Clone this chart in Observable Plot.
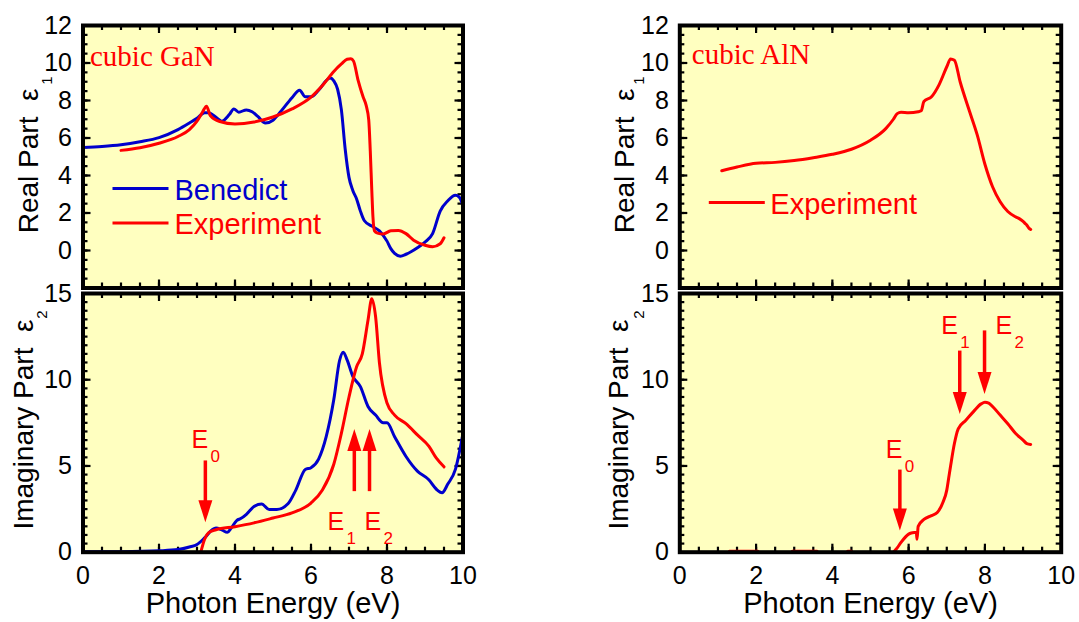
<!DOCTYPE html>
<html><head><meta charset="utf-8">
<script src="https://cdn.jsdelivr.net/npm/d3@7"></script>
<script src="https://cdn.jsdelivr.net/npm/@observablehq/plot@0.6"></script>
<style>
body{margin:0;background:#fff;}
#chart{position:relative;width:1079px;height:622px;overflow:hidden;background:#fff;}
#chart svg{position:absolute;overflow:visible;}
</style></head><body><div id="chart"></div>
<script>
// ---------------- data (photon energy eV, dielectric function) ----------------
const gaNRealBenedict = [[0,5.5],[0.5,5.55],[1,5.64],[1.5,5.8],[2,6.02],[2.5,6.45],[2.8,6.8],[3.0,7.05],[3.2,7.35],[3.3,7.35],[3.5,7.1],[3.65,6.9],[3.85,7.25],[3.97,7.55],[4.1,7.38],[4.3,7.5],[4.45,7.4],[4.6,7.15],[4.8,6.8],[5.0,6.95],[5.2,7.4],[5.5,8.15],[5.7,8.55],[5.85,8.2],[6.0,8.2],[6.2,8.55],[6.5,9.2],[6.6,9.05],[6.7,8.6],[6.8,7.5],[6.9,5.4],[7.0,3.9],[7.1,3.2],[7.2,2.75],[7.3,2.1],[7.4,1.6],[7.6,1.3],[7.8,1.05],[8.0,0.5],[8.1,0.1],[8.2,-0.15],[8.35,-0.3],[8.5,-0.2],[8.8,0.15],[9.0,0.45],[9.2,0.9],[9.4,2.1],[9.6,2.65],[9.8,2.95],[9.9,2.85],[10,2.4]];
const gaNRealExperiment = [[1.0,5.34],[1.5,5.48],[2.0,5.72],[2.5,6.08],[2.8,6.45],[3.0,6.9],[3.15,7.4],[3.25,7.7],[3.35,7.2],[3.6,6.88],[4.0,6.75],[4.5,6.85],[5.0,7.12],[5.5,7.55],[6.0,8.18],[6.3,8.8],[6.6,9.55],[6.8,9.95],[6.95,10.2],[7.05,10.23],[7.12,10.1],[7.24,9.07],[7.37,8.2],[7.45,7.75],[7.52,6.95],[7.56,5.3],[7.6,3.2],[7.63,1.8],[7.67,1.05],[7.75,0.93],[7.9,0.88],[8.1,1.05],[8.3,1.07],[8.5,0.9],[8.7,0.55],[9.0,0.28],[9.2,0.2],[9.4,0.36],[9.5,0.68]];
const gaNImagBenedict = [[0,0.02],[1,0.03],[2,0.08],[2.5,0.15],[2.8,0.3],[3.0,0.45],[3.2,0.83],[3.4,1.3],[3.5,1.4],[3.65,1.3],[3.8,1.15],[3.9,1.4],[4.05,1.85],[4.15,1.95],[4.3,2.2],[4.5,2.65],[4.7,2.8],[4.9,2.47],[5.1,2.47],[5.4,2.82],[5.6,3.6],[5.85,4.8],[6.0,4.9],[6.2,5.4],[6.4,6.7],[6.6,8.85],[6.75,11.1],[6.85,11.6],[6.95,11.15],[7.1,10.2],[7.3,9.6],[7.5,8.45],[7.7,7.95],[7.9,7.5],[8.0,7.5],[8.2,6.7],[8.5,5.55],[8.8,4.7],[9.1,4.2],[9.3,3.65],[9.45,3.45],[9.6,3.95],[9.8,4.8],[10,6.9]];
const gaNImagExperiment = [[3.1,0],[3.2,0.75],[3.3,1.12],[3.5,1.3],[4.0,1.48],[4.5,1.7],[5.0,1.98],[5.5,2.28],[6.0,2.85],[6.3,3.6],[6.6,5.1],[6.8,6.9],[7.0,9.0],[7.2,10.75],[7.35,11.5],[7.5,13.45],[7.6,14.7],[7.7,13.65],[7.8,11.0],[8.0,8.65],[8.2,7.95],[8.5,7.45],[8.8,6.8],[9.1,6.15],[9.3,5.45],[9.5,4.95]];
const alNRealExperiment = [[1.1,4.25],[1.5,4.45],[2.0,4.65],[2.5,4.7],[3.0,4.8],[3.5,4.95],[4.0,5.13],[4.5,5.4],[5.0,5.88],[5.4,6.5],[5.6,7.0],[5.7,7.3],[5.8,7.37],[6.0,7.35],[6.25,7.4],[6.33,7.45],[6.4,7.95],[6.6,8.2],[6.8,8.85],[7.0,9.8],[7.1,10.22],[7.2,10.15],[7.35,9.0],[7.6,7.4],[7.8,6.15],[8.0,4.6],[8.2,3.4],[8.4,2.6],[8.6,2.08],[8.8,1.8],[8.9,1.7],[9.0,1.55],[9.05,1.45],[9.1,1.35],[9.15,1.2],[9.2,1.12]];
const alNImagExperiment = [[5.6,0.0],[5.7,0.25],[5.8,0.57],[6.0,1.05],[6.1,1.13],[6.2,1.15],[6.22,0.75],[6.25,1.5],[6.4,1.9],[6.6,2.12],[6.75,2.3],[6.9,2.9],[7.0,3.6],[7.05,4.3],[7.1,5.0],[7.2,6.3],[7.3,7.15],[7.5,7.65],[7.7,8.15],[7.9,8.6],[8.0,8.7],[8.1,8.65],[8.2,8.45],[8.4,7.95],[8.6,7.45],[8.8,6.9],[9.0,6.5],[9.1,6.3],[9.2,6.25]];
// low-energy noise fragments of the AlN epsilon-2 data: [x, y, fragment]
const alNImagFragments = [[1.3,0.06,1],[2.05,0.06,1],[2.95,0.06,2],[3.6,0.06,2],[4.4,0.06,3],[4.5,0.06,3]];

// critical-point annotations (data coordinates)
const gaNArrows = [{x:3.22, tail:5.32, tip:1.74},{x:7.14, tail:3.54, tip:7.15},{x:7.54, tail:3.54, tip:7.15}];
const gaNLabels = [{x:2.91, y:6.07, sub:"0"},{x:6.49, y:1.26, sub:"1"},{x:7.46, y:1.26, sub:"2"}];
const alNArrows = [{x:5.77, tail:4.79, tip:1.26},{x:7.34, tail:11.69, tip:8.02},{x:7.99, tail:12.86, tip:9.18}];
const alNLabels = [{x:5.45, y:5.49, sub:"0"},{x:6.91, y:12.68, sub:"1"},{x:8.33, y:12.68, sub:"2"}];

// axes
const xDomain = [0, 10];
const xTickLabels = [0, 2, 4, 6, 8, 10];
const realDomain = [-2, 12];
const realTickLabels = [0, 2, 4, 6, 8, 10, 12];
const realMajorTicks = [-2, 0, 2, 4, 6, 8, 10, 12];
const imagDomain = [0, 15];
const imagTickLabels = [0, 5, 10, 15];
const imagMajorTicks = [0, 5, 10, 15];
const minorStep = 0.5;

// ---------------- styles ----------------
const RED = "#ff0000", BLUE = "#0000cc", BG = "#ffffc0";
const SANS = "'Liberation Sans', Arial, Helvetica, sans-serif";
const SERIF = "'Liberation Serif', 'Times New Roman', serif";

const headDown = {draw(ctx) { ctx.moveTo(0, 0); ctx.lineTo(-7, -22); ctx.lineTo(7, -22); ctx.closePath(); }};
const headUp = {draw(ctx) { ctx.moveTo(0, 0); ctx.lineTo(-7, 22); ctx.lineTo(7, 22); ctx.closePath(); }};
const legendLine = {draw(ctx) { ctx.moveTo(-28, 0); ctx.lineTo(28, 0); }};

function tickMarks(yDomain, yMajor, fw, fh) {
  const xMinor = d3.range(xDomain[0], xDomain[1] + 1e-9, minorStep);
  const yMinor = d3.range(yDomain[0], yDomain[1] + 1e-9, minorStep);
  const xMajor = xTickLabels;
  const mn = 5, mj = 8;
  const o = {stroke: "black", strokeWidth: 2.2};
  return [
    Plot.tickX(xMinor, {x: d => d, insetTop: fh - mn, ...o}),
    Plot.tickX(xMinor, {x: d => d, insetBottom: fh - mn, ...o}),
    Plot.tickX(xMajor, {x: d => d, insetTop: fh - mj, ...o}),
    Plot.tickX(xMajor, {x: d => d, insetBottom: fh - mj, ...o}),
    Plot.tickY(yMinor, {y: d => d, insetRight: fw - mn, ...o}),
    Plot.tickY(yMinor, {y: d => d, insetLeft: fw - mn, ...o}),
    Plot.tickY(yMajor, {y: d => d, insetRight: fw - mj, ...o}),
    Plot.tickY(yMajor, {y: d => d, insetLeft: fw - mj, ...o})
  ];
}

function line(data, stroke) {
  return Plot.line(data, {x: d => d[0], y: d => d[1], stroke, strokeWidth: 3, curve: "monotone-x"});
}

function annotations(arrows, labels) {
  const shaft = 0.7;
  return [
    Plot.link(arrows, {x1: "x", x2: "x", y1: "tail", y2: d => d.tip + (d.tail > d.tip ? shaft : -shaft), stroke: RED, strokeWidth: 3.5}),
    Plot.dot(arrows.filter(d => d.tail > d.tip), {x: "x", y: "tip", symbol: headDown, fill: RED, stroke: null}),
    Plot.dot(arrows.filter(d => d.tail < d.tip), {x: "x", y: "tip", symbol: headUp, fill: RED, stroke: null}),
    Plot.text(labels, {x: "x", y: "y", text: () => "E", textAnchor: "start", lineAnchor: "bottom", dx: -2, fill: RED, fontSize: 25, fontFamily: SANS}),
    Plot.text(labels, {x: "x", y: "y", text: "sub", textAnchor: "start", lineAnchor: "bottom", dx: 17, dy: 14, fill: RED, fontSize: 17, fontFamily: SANS})
  ];
}

function panel(p) {
  const fw = p.width - p.marginLeft - p.marginRight;
  const fh = p.height - p.marginTop - p.marginBottom;
  const marks = [
    Plot.frame({fill: BG, stroke: null}),
    ...tickMarks(p.yDomain, p.yMajor, fw, fh),
    ...p.marks,
    Plot.frame({stroke: "black", strokeWidth: 4}),
    Plot.axisY(p.yLabels, {tickSize: 0, tickPadding: 11, fontSize: 25, fontFamily: SANS, label: null}),
    Plot.text([p.yTitle], {frameAnchor: "top-left", rotate: -90, textAnchor: "end", lineAnchor: "bottom", dx: p.yTitleDx, dy: p.yTitleDy, fontSize: 28, fontFamily: SANS, fill: "black"}),
    Plot.text([p.ySub], {frameAnchor: "top-left", rotate: -90, textAnchor: "middle", lineAnchor: "bottom", dx: p.ySubDx, dy: p.ySubDy, fontSize: 15, fontFamily: SANS, fill: "black"})
  ];
  if (p.xAxis) {
    marks.push(Plot.axisX(xTickLabels, {tickSize: 0, tickPadding: 14, fontSize: 25, fontFamily: SANS, label: null}));
    marks.push(Plot.text(["Photon Energy (eV)"], {frameAnchor: "bottom", lineAnchor: "bottom", dy: 61, fontSize: 29, fontFamily: SANS, fill: "black"}));
  }
  const svg = Plot.plot({
    width: p.width, height: p.height,
    marginLeft: p.marginLeft, marginRight: p.marginRight, marginTop: p.marginTop, marginBottom: p.marginBottom,
    style: {background: "transparent", overflow: "visible", fontFamily: SANS, fontSize: "25px", color: "black"},
    x: {domain: xDomain, axis: null},
    y: {domain: p.yDomain, axis: null},
    marks
  });
  svg.style.left = p.left + "px";
  svg.style.top = p.top + "px";
  document.getElementById("chart").appendChild(svg);
}

const topBase = {height: 290, marginTop: 25, marginBottom: 2.5, yDomain: realDomain, yMajor: realMajorTicks, yLabels: realTickLabels, yTitle: "Real Part  ε", ySub: "1", yTitleDy: 63, ySubDy: 55};
const botBase = {height: 332, marginTop: 3, marginBottom: 70.3, yDomain: imagDomain, yMajor: imagMajorTicks, yLabels: imagTickLabels, yTitle: "Imaginary Part  ε", ySub: "2", yTitleDy: 26, ySubDy: 21, xAxis: true};
const leftBase = {width: 540, left: 0, marginLeft: 82.5, marginRight: 77.5};
const rightBase = {width: 539, left: 540, marginLeft: 139.3, marginRight: 18.3};

// top-left: cubic GaN real part
panel({...topBase, ...leftBase, top: 0, yTitleDx: -45, ySubDx: -31, marks: [
  line(gaNRealBenedict, BLUE),
  line(gaNRealExperiment, RED),
  Plot.text(["cubic GaN"], {frameAnchor: "top-left", textAnchor: "start", lineAnchor: "bottom", dx: 7, dy: 40, fill: RED, fontSize: 29, fontFamily: SERIF}),
  Plot.dot([0], {frameAnchor: "top-left", dx: 57.5, dy: 163, symbol: legendLine, stroke: BLUE, strokeWidth: 3, fill: "none"}),
  Plot.text(["Benedict"], {frameAnchor: "top-left", textAnchor: "start", lineAnchor: "bottom", dx: 91.5, dy: 174, fill: BLUE, fontSize: 29, fontFamily: SANS}),
  Plot.dot([0], {frameAnchor: "top-left", dx: 57.5, dy: 197.5, symbol: legendLine, stroke: RED, strokeWidth: 3, fill: "none"}),
  Plot.text(["Experiment"], {frameAnchor: "top-left", textAnchor: "start", lineAnchor: "bottom", dx: 91.5, dy: 208, fill: RED, fontSize: 29, fontFamily: SANS})
]});

// bottom-left: cubic GaN imaginary part
panel({...botBase, ...leftBase, top: 290, yTitleDx: -50, ySubDx: -36, marks: [
  line(gaNImagBenedict, BLUE),
  line(gaNImagExperiment, RED),
  ...annotations(gaNArrows, gaNLabels)
]});

// top-right: cubic AlN real part
panel({...topBase, ...rightBase, top: 0, yTitleDx: -46, ySubDx: -36, marks: [
  line(alNRealExperiment, RED),
  Plot.text(["cubic AlN"], {frameAnchor: "top-left", textAnchor: "start", lineAnchor: "bottom", dx: 12, dy: 38, fill: RED, fontSize: 29, fontFamily: SERIF}),
  Plot.dot([0], {frameAnchor: "top-left", dx: 57, dy: 177, symbol: legendLine, stroke: RED, strokeWidth: 3, fill: "none"}),
  Plot.text(["Experiment"], {frameAnchor: "top-left", textAnchor: "start", lineAnchor: "bottom", dx: 90.5, dy: 188, fill: RED, fontSize: 29, fontFamily: SANS})
]});

// bottom-right: cubic AlN imaginary part
panel({...botBase, ...rightBase, top: 290, yTitleDx: -52, ySubDx: -36, marks: [
  Plot.line(alNImagFragments, {x: d => d[0], y: d => d[1], z: d => d[2], stroke: RED, strokeWidth: 3}),
  line(alNImagExperiment, RED),
  ...annotations(alNArrows, alNLabels)
]});
</script></body></html>
